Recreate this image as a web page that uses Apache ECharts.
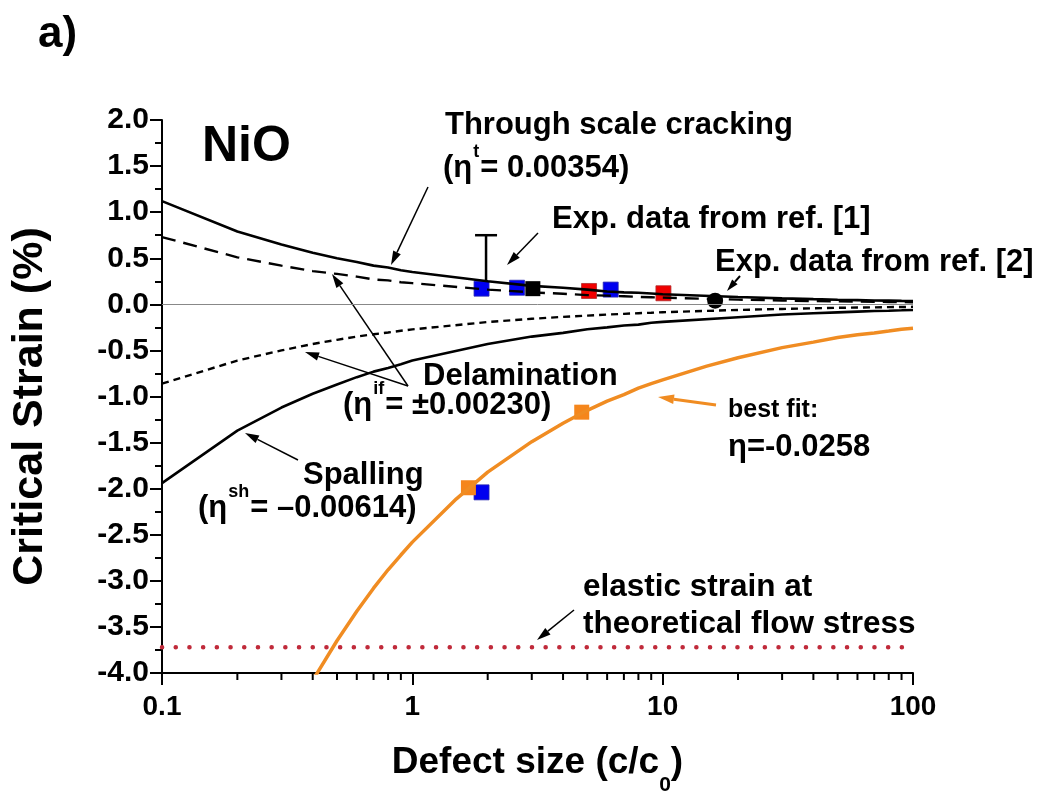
<!DOCTYPE html>
<html>
<head>
<meta charset="utf-8">
<title>NiO critical strain</title>
<script src="https://cdn.jsdelivr.net/npm/echarts@6/dist/echarts.min.js"></script>
<style>
  html, body { margin: 0; padding: 0; background: #fff; }
  #main { width: 1039px; height: 792px; }
</style>
</head>
<body>
<div id="main"></div>
<script>
var FONT = "'Liberation Sans', Arial, sans-serif";

// defect size c/c0 where the model curves were read
var cGrid = [0.1, 0.2, 0.3, 0.4, 0.5, 0.6, 0.7, 0.8, 0.9, 1, 2, 3, 4, 5, 6, 7, 8, 9, 10, 20, 30, 40, 50, 60, 70, 80, 90, 100];
var throughScale = [1.12, 0.79, 0.65, 0.56, 0.50, 0.46, 0.42, 0.40, 0.37, 0.35, 0.25, 0.20, 0.18, 0.16, 0.14, 0.13, 0.125, 0.118, 0.11, 0.08, 0.065, 0.056, 0.05, 0.046, 0.042, 0.04, 0.037, 0.035];
var delamUpper = [0.73, 0.51, 0.42, 0.36, 0.33, 0.30, 0.27, 0.26, 0.24, 0.23, 0.16, 0.13, 0.115, 0.10, 0.094, 0.087, 0.081, 0.077, 0.073, 0.051, 0.042, 0.036, 0.033, 0.03, 0.027, 0.026, 0.024, 0.023];
var delamLower = [-0.86, -0.61, -0.50, -0.43, -0.385, -0.35, -0.325, -0.305, -0.287, -0.272, -0.192, -0.157, -0.136, -0.122, -0.111, -0.103, -0.096, -0.091, -0.086, -0.061, -0.05, -0.043, -0.038, -0.035, -0.033, -0.03, -0.029, -0.027];
var spalling = [-1.94, -1.37, -1.12, -0.97, -0.87, -0.79, -0.73, -0.69, -0.65, -0.61, -0.43, -0.35, -0.31, -0.27, -0.25, -0.23, -0.22, -0.20, -0.19, -0.14, -0.11, -0.097, -0.087, -0.079, -0.073, -0.069, -0.065, -0.061];

var bestFitC = [0.4, 0.5, 0.6, 0.7, 0.8, 0.9, 1, 1.5, 2, 3, 4, 5, 6, 7, 8, 9, 10, 15, 20, 30, 40, 50, 60, 70, 80, 90, 100];
var bestFit = [-4.08, -3.65, -3.33, -3.08, -2.88, -2.72, -2.58, -2.11, -1.82, -1.49, -1.29, -1.15, -1.05, -0.98, -0.91, -0.86, -0.82, -0.67, -0.58, -0.47, -0.41, -0.36, -0.33, -0.31, -0.29, -0.27, -0.26];

var flowStressC = [0.1, 100];
var flowStress = [-3.72, -3.72];

// experimental points [c/c0, strain %]
var expBlue = [[1.89, 0.17], [2.62, 0.18], [6.2, 0.16], [1.89, -2.04]];
var expRed = [[5.08, 0.145], [10.07, 0.12]];
var expBlack = [[3.03, 0.17]];
var expRef2 = [[16.2, 0.04]];
var fitPoints = [[1.675, -1.99], [4.75, -1.17]];
var errBar = [[1.97, 0.19, 0.75]];

var xMinorTicks = [0.2, 0.3, 0.4, 0.5, 0.6, 0.7, 0.8, 0.9, 2, 3, 4, 5, 6, 7, 8, 9, 20, 30, 40, 50, 60, 70, 80, 90];

function zip(xs, ys) {
    return xs.map(function (x, i) { return [x, ys[i]]; });
}

function arrow(x1, y1, x2, y2, color, w, head) {
    var dx = x2 - x1, dy = y2 - y1;
    var len = Math.sqrt(dx * dx + dy * dy);
    var ux = dx / len, uy = dy / len;
    var bx = x2 - ux * head, by = y2 - uy * head;
    var hw = head * 0.3;
    return [
        { type: 'line', shape: { x1: x1, y1: y1, x2: bx, y2: by }, style: { stroke: color, lineWidth: w } },
        { type: 'polygon', shape: { points: [[x2, y2], [bx - uy * hw, by + ux * hw], [bx + uy * hw, by - ux * hw]] }, style: { fill: color } }
    ];
}

function label(x, y, text, size, extra) {
    var st = { text: text, fontSize: size, fontWeight: 'bold', fontFamily: FONT, fill: '#000', align: 'left', verticalAlign: 'middle' };
    for (var k in extra || {}) st[k] = extra[k];
    return { type: 'text', x: x, y: y, z: 10, style: st };
}

var supRich = {
    m: { fontSize: 31, fontWeight: 'bold', fontFamily: FONT, fill: '#000', lineHeight: 31, verticalAlign: 'bottom' },
    s: { fontSize: 18, fontWeight: 'bold', fontFamily: FONT, fill: '#000', lineHeight: 18, padding: [0, 1, 22, 1], verticalAlign: 'bottom' }
};

var lineBase = { type: 'line', showSymbol: false, symbol: 'none', silent: true, clip: true };

function curve(name, data, style) {
    var s = { name: name, data: data, lineStyle: style };
    for (var k in lineBase) s[k] = lineBase[k];
    return s;
}

var graphics = [].concat(
    label(38, 35, 'a)', 44),
    label(202, 147, 'NiO', 50),
    label(445, 125, 'Through scale cracking', 31),
    label(443, 168, '{m|(η}{s|t}{m|= 0.00354)}', 31, { rich: supRich }),
    label(552, 219, 'Exp. data from ref. [1]', 31),
    label(715, 262, 'Exp. data from ref. [2]', 31),
    label(423, 376, 'Delamination', 31),
    label(343, 405, '{m|(η}{s|if}{m|= ±0.00230)}', 31, { rich: supRich }),
    label(303, 475, 'Spalling', 31),
    label(198, 508, '{m|(η}{s|sh}{m|= –0.00614)}', 31, { rich: supRich }),
    label(728, 410, 'best fit:', 25),
    label(728, 447, 'η=-0.0258', 31),
    label(583, 587, 'elastic strain at', 31.5),
    label(583, 624, 'theoretical flow stress', 31.5),
    arrow(428, 187, 391, 265, '#000', 1.5, 14),
    arrow(538, 233, 507, 265, '#000', 1.5, 14),
    arrow(740, 276, 727, 291, '#000', 2, 12),
    arrow(408, 386, 332, 274, '#000', 1.5, 14),
    arrow(408, 386, 305, 352, '#000', 1.5, 14),
    arrow(298, 460, 245, 433, '#000', 1.5, 14),
    arrow(716, 405, 658, 397, '#f08c22', 3, 16),
    arrow(574, 610, 537, 640, '#000', 1.5, 14)
);

var chart = echarts.init(document.getElementById('main'));

chart.setOption({
    animation: false,
    backgroundColor: '#fff',
    grid: { left: 162, right: 126, top: 120, bottom: 119, containLabel: false, outerBoundsMode: 'none' },
    xAxis: {
        type: 'log',
        logBase: 10,
        min: 0.1,
        max: 100,
        name: '{m|Defect size (c/c}{s|0}{m|)}',
        nameLocation: 'middle',
        nameGap: 71,
        nameTextStyle: {
            rich: {
                m: { fontSize: 37, fontWeight: 'bold', fontFamily: FONT, color: '#000', lineHeight: 40, verticalAlign: 'top' },
                s: { fontSize: 21, fontWeight: 'bold', fontFamily: FONT, color: '#000', lineHeight: 21, padding: [31, 0, 0, 0], verticalAlign: 'top' }
            }
        },
        axisLine: { show: true, onZero: false, lineStyle: { color: '#000', width: 2 } },
        axisTick: { show: true, length: 12, lineStyle: { color: '#000', width: 2 } },
        minorTick: { show: false },
        axisLabel: {
            fontSize: 28, fontWeight: 'bold', fontFamily: FONT, color: '#000', margin: 20,
            formatter: function (v) { return String(+v.toPrecision(3)); }
        },
        splitLine: { show: false }
    },
    yAxis: {
        type: 'value',
        min: -4,
        max: 2,
        interval: 0.5,
        name: 'Critical Strain (%)',
        nameLocation: 'middle',
        nameGap: 110,
        nameRotate: 90,
        nameTextStyle: { fontSize: 43, fontWeight: 'bold', fontFamily: FONT, color: '#000', padding: [0, 20, 0, 0] },
        axisLine: { show: true, onZero: false, lineStyle: { color: '#000', width: 2 } },
        axisTick: { show: true, length: 12, lineStyle: { color: '#000', width: 2 } },
        minorTick: { show: true, splitNumber: 2, length: 7, lineStyle: { color: '#000', width: 2 } },
        axisLabel: {
            fontSize: 30, fontWeight: 'bold', fontFamily: FONT, color: '#000', margin: 13,
            formatter: function (v) { return v.toFixed(1); }
        },
        splitLine: { show: false }
    },
    series: [
        (function () {
            var s = curve('Through scale cracking', zip(cGrid, throughScale), { color: '#000', width: 2.6 });
            s.markLine = {
                silent: true, symbol: 'none', label: { show: false },
                lineStyle: { color: '#888', width: 1, type: 'solid' },
                data: [{ yAxis: 0 }]
            };
            return s;
        })(),
        curve('Delamination +', zip(cGrid, delamUpper), { color: '#000', width: 2.4, type: [14, 8] }),
        curve('Delamination -', zip(cGrid, delamLower), { color: '#000', width: 2.4, type: [7, 5] }),
        curve('Spalling', zip(cGrid, spalling), { color: '#000', width: 2.6 }),
        curve('Best fit', zip(bestFitC, bestFit), { color: '#f08c22', width: 3.5 }),
        curve('Flow stress', zip(flowStressC, flowStress), { color: '#c02a3a', width: 4.5, type: [0.1, 13.6], cap: 'round' }),
        {
            type: 'custom',
            name: 'error bar',
            silent: true,
            data: errBar,
            renderItem: function (params, api) {
                var top = api.coord([api.value(0), api.value(2)]);
                var bot = api.coord([api.value(0), api.value(1)]);
                return {
                    type: 'group',
                    children: [
                        { type: 'line', shape: { x1: top[0], y1: top[1], x2: bot[0], y2: bot[1] }, style: { stroke: '#000', lineWidth: 2.5 } },
                        { type: 'line', shape: { x1: top[0] - 11, y1: top[1], x2: top[0] + 11, y2: top[1] }, style: { stroke: '#000', lineWidth: 2.5 } }
                    ]
                };
            }
        },
        {
            type: 'custom',
            name: 'x minor ticks',
            silent: true,
            data: xMinorTicks.map(function (v) { return [v, -4]; }),
            renderItem: function (params, api) {
                var p = api.coord([api.value(0), api.value(1)]);
                return { type: 'line', shape: { x1: p[0], y1: p[1], x2: p[0], y2: p[1] + 7 }, style: { stroke: '#000', lineWidth: 2 } };
            }
        },
        { type: 'scatter', name: 'blue', data: expBlue, symbol: 'rect', symbolSize: 15, silent: true, itemStyle: { color: '#0000f0', borderColor: '#2a2ab0', borderWidth: 0.8, opacity: 1 } },
        { type: 'scatter', name: 'red', data: expRed, symbol: 'rect', symbolSize: 15, silent: true, itemStyle: { color: '#f00000', borderColor: '#b02a2a', borderWidth: 0.8, opacity: 1 } },
        { type: 'scatter', name: 'black', data: expBlack, symbol: 'rect', symbolSize: 15, silent: true, itemStyle: { color: '#000', opacity: 1 } },
        { type: 'scatter', name: 'ref2', data: expRef2, symbol: 'circle', symbolSize: 16, silent: true, itemStyle: { color: '#000', opacity: 1 } },
        { type: 'scatter', name: 'fit', data: fitPoints, symbol: 'rect', symbolSize: 15, silent: true, itemStyle: { color: '#f5861c', opacity: 1 } }
    ],
    graphic: { elements: graphics }
});
</script>
</body>
</html>
